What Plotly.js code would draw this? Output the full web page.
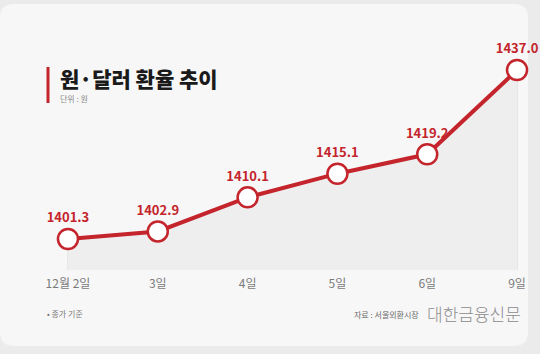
<!DOCTYPE html>
<html><head><meta charset="utf-8">
<script src="https://cdn.plot.ly/plotly-3.0.1.min.js"></script>
<style>html,body{margin:0;padding:0;background:#ebebeb;}#c{width:540px;height:354px;}</style>
</head><body><div id="c"></div>
<script>
const dates = ["12월 2일", "3일", "4일", "5일", "6일", "9일"];
const rates = [1401.3, 1402.9, 1410.1, 1415.1, 1419.2, 1437.0];
const labels = ["1401.3", "1402.9", "1410.1", "1415.1", "1419.2", "1437.0"];

const W = 540, H = 354;
const M = {l: 50, r: 5, t: 40, b: 84};
const RED = "#c4242b";
const yMin = 1394.75, yMax = 1443.35;
const xs = dates.map((d, i) => i);

// paper-coordinate helpers (px -> paper fraction)
const pw = W - M.l - M.r, ph = H - M.t - M.b;
const px = x => (x - M.l) / pw;
const py = y => 1 - (y - M.t) / ph;

function roundRect(x0, y0, x1, y1, r) {
  const f = (x, y) => px(x).toFixed(5) + "," + py(y).toFixed(5);
  return "M" + f(x0 + r, y0) + " L" + f(x1 - r, y0) + " Q" + f(x1, y0) + " " + f(x1, y0 + r) +
    " L" + f(x1, y1 - r) + " Q" + f(x1, y1) + " " + f(x1 - r, y1) +
    " L" + f(x0 + r, y1) + " Q" + f(x0, y1) + " " + f(x0, y1 - r) +
    " L" + f(x0, y0 + r) + " Q" + f(x0, y0) + " " + f(x0 + r, y0) + " Z";
}

const shapes = [
  {type: "path", xref: "paper", yref: "paper", path: roundRect(0, 4, 528, 346, 14),
   fillcolor: "#f7f7f7", line: {width: 0}, layer: "below"},
  {type: "line", xref: "paper", yref: "paper", x0: px(48), x1: px(48), y0: py(67), y1: py(103),
   line: {color: RED, width: 3}}
];
xs.forEach((x, i) => {
  shapes.push({type: "line", xref: "x", yref: "y", x0: x, x1: x, y0: yMin, y1: rates[i],
    line: {color: "#d9d9d9", width: 1}, layer: "below"});
});

const traces = [
  {x: xs, y: rates, type: "scatter", mode: "lines", fill: "tozeroy",
   fillcolor: "#eeeeee", line: {color: "rgba(0,0,0,0)", width: 0}, hoverinfo: "skip"},
  {x: xs, y: rates, type: "scatter", mode: "lines+markers+text",
   line: {color: RED, width: 4},
   marker: {size: 20, color: "#ffffff", line: {color: RED, width: 2.5}},
   text: labels, textposition: "top center", cliponaxis: false,
   textfont: {family: "Noto Sans CJK KR, Noto Sans, sans-serif", size: 13, color: RED, weight: 700}}
];

const layout = {
  width: W, height: H, margin: M,
  paper_bgcolor: "#ebebeb", plot_bgcolor: "rgba(0,0,0,0)",
  showlegend: false,
  shapes: shapes,
  xaxis: {range: [-0.2, 5.2], tickvals: xs, ticktext: dates, showgrid: false, zeroline: false,
    showline: false, ticks: "", fixedrange: true, ticklabelstandoff: 5,
    tickfont: {family: "Noto Sans CJK KR, sans-serif", size: 12, color: "#7a7a7a"}},
  yaxis: {range: [yMin, yMax], visible: false, fixedrange: true},
  annotations: [
    {xref: "paper", yref: "paper", x: px(58), y: py(78), xanchor: "left", yanchor: "middle",
     text: "원·달러 환율 추이", showarrow: false,
     font: {family: "Noto Sans CJK KR, sans-serif", size: 21, color: "#1a1a1a", weight: 900}},
    {xref: "paper", yref: "paper", x: px(58), y: py(98), xanchor: "left", yanchor: "middle",
     text: "단위 : 원", showarrow: false,
     font: {family: "Noto Sans CJK KR, sans-serif", size: 8, color: "#8a8a8a"}},
    {xref: "paper", yref: "paper", x: px(45), y: py(313), xanchor: "left", yanchor: "middle",
     text: "• 종가 기준", showarrow: false,
     font: {family: "Noto Sans CJK KR, sans-serif", size: 8, color: "#7a7a7a"}},
    {xref: "paper", yref: "paper", x: px(421), y: py(314), xanchor: "right", yanchor: "middle",
     text: "자료 : 서울외환시장", showarrow: false,
     font: {family: "Noto Sans CJK KR, sans-serif", size: 8, color: "#6a6a6a"}},
    {xref: "paper", yref: "paper", x: px(523), y: py(313), xanchor: "right", yanchor: "middle",
     text: "대한금융신문", showarrow: false,
     font: {family: "Noto Sans CJK KR, sans-serif", size: 17, color: "#8c8c8c", weight: 300}}
  ]
};

Plotly.newPlot("c", traces, layout, {staticPlot: true, displayModeBar: false});
</script>
</body></html>
